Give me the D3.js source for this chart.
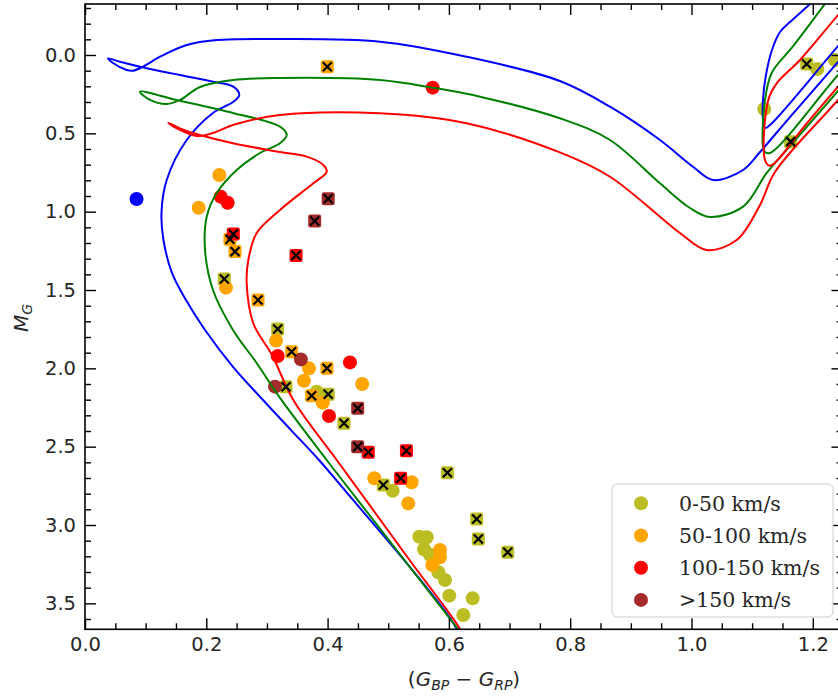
<!DOCTYPE html>
<html><head><meta charset="utf-8">
<script src="https://cdn.jsdelivr.net/npm/d3@7"></script>
<style>body{margin:0;background:#fff}svg{display:block}</style>
</head><body>
<script>
// ---------- data ----------
const xTickVals = [0, 0.2, 0.4, 0.6, 0.8, 1.0, 1.2];
const yTickVals = [0, 0.5, 1.0, 1.5, 2.0, 2.5, 3.0, 3.5];
const legendLabels = ["0-50 km/s", "50-100 km/s", "100-150 km/s", ">150 km/s"];
const classColors = ["#bcbd22", "#ffa500", "#ff0000", "#a52a2a"];
const isoColors = ["#0000ff", "#008000", "#ff0000"];

// isochrones: [colour index, magnitude]
const blueIso = [[0.618,3.702],[0.602,3.594],[0.526,3.223],[0.4419,2.840],[0.3858,2.585],[0.3397,2.394],[0.2935,2.202],[0.244,1.990],[0.1979,1.755],[0.1665,1.564],[0.1434,1.391],[0.1294,1.181],[0.1261,1.008],[0.1347,0.798],[0.1677,0.5425],[0.211,0.370],[0.244,0.300],[0.2544,0.255],[0.2445,0.202],[0.211,0.170],[0.1566,0.128],[0.0907,0.0747],[0.0577,0.043],[0.0379,0.021],[0.0462,0.051],[0.0688,0.0957],[0.0791,0.100],[0.0956,0.0747],[0.1237,0.011],[0.1677,-0.064],[0.2172,-0.0957],[0.3215,-0.102],[0.4864,-0.085],[0.629,0.011],[0.783,0.166],[0.8656,0.330],[0.948,0.5425],[1.0025,0.713],[1.0354,0.798],[1.085,0.734],[1.113,0.619],[1.1624,0.396],[1.2416,0.0447],[1.3438,-0.4085],[1.3438,-0.737],[1.1624,-0.2106],[1.146,-0.147],[1.1327,-0.032],[1.1228,0.128],[1.1179,0.287],[1.1179,0.415],[1.121,0.466],[1.1294,0.447],[1.2416,-0.057],[1.3438,-0.517]];
const greenIso = [[0.6233,3.708],[0.615,3.664],[0.5355,3.268],[0.4534,2.859],[0.3985,2.585],[0.3215,2.189],[0.283,1.966],[0.244,1.755],[0.211,1.500],[0.1979,1.245],[0.2007,1.032],[0.2172,0.881],[0.2501,0.734],[0.2885,0.6255],[0.3215,0.5636],[0.3326,0.5106],[0.3215,0.4577],[0.244,0.370],[0.1512,0.287],[0.0907,0.234],[0.1072,0.287],[0.1347,0.3128],[0.1566,0.287],[0.1896,0.204],[0.244,0.1596],[0.3215,0.1468],[0.4864,0.1596],[0.5733,0.2087],[0.6513,0.266],[0.783,0.404],[0.8656,0.5425],[0.948,0.819],[0.9975,0.9766],[1.0305,1.034],[1.085,0.968],[1.124,0.753],[1.1624,0.581],[1.2416,0.2298],[1.3438,-0.2253],[1.3438,-0.839],[1.1624,-0.032],[1.1322,0.115],[1.1212,0.287],[1.1179,0.585],[1.1212,0.619],[1.1294,0.6255],[1.2416,0.1277],[1.3438,-0.3287]];
const redIso = [[0.6216,3.702],[0.6183,3.664],[0.5375,3.236],[0.469,2.872],[0.415,2.585],[0.3435,2.202],[0.3083,1.915],[0.2775,1.7125],[0.2666,1.457],[0.2693,1.3085],[0.2831,1.136],[0.3215,0.989],[0.3764,0.819],[0.3985,0.745],[0.3929,0.702],[0.3655,0.649],[0.3215,0.619],[0.244,0.5636],[0.1896,0.5106],[0.1566,0.468],[0.1373,0.432],[0.1512,0.468],[0.1842,0.517],[0.211,0.498],[0.244,0.447],[0.3215,0.383],[0.4864,0.372],[0.629,0.436],[0.783,0.622],[0.8656,0.777],[0.948,1.032],[0.981,1.136],[1.025,1.245],[1.0745,1.181],[1.113,0.957],[1.1377,0.747],[1.2416,0.287],[1.3438,-0.169],[1.3438,-0.721],[1.2416,-0.255],[1.1789,0.032],[1.1405,0.181],[1.1266,0.287],[1.1212,0.670],[1.1294,0.7066],[1.190,0.436],[1.2416,0.2023],[1.3438,-0.255]];

// stars: [colour index, M_G, marked with x]
const pts0to50 = [[0.2297,1.430,1],[0.3177,1.749,1],[0.3314,2.117,1],[0.382,2.149,0],[0.401,2.166,1],[0.427,2.351,1],[0.5975,2.666,1],[0.4919,2.745,1],[0.5073,2.781,0],[0.6458,2.962,1],[0.6485,3.089,1],[0.697,3.174,1],[0.5513,3.075,0],[0.5634,3.078,0],[0.559,3.155,0],[0.5688,3.19,0],[0.5826,3.302,0],[0.5936,3.351,0],[0.6007,3.451,0],[0.6392,3.468,0],[0.6238,3.574,0],[1.120,0.345,0],[1.190,0.057,1],[1.2075,0.089,0],[1.2366,0.032,0],[1.1635,0.553,1]];
const pts50to100 = [[0.2215,0.766,0],[0.1874,0.975,0],[0.239,1.176,1],[0.2473,1.255,1],[0.2325,1.485,0],[0.2852,1.564,1],[0.315,1.823,0],[0.3407,1.894,1],[0.3693,2.000,0],[0.399,2.000,1],[0.457,2.100,0],[0.361,2.079,0],[0.3737,2.175,1],[0.392,2.219,0],[0.477,2.702,0],[0.5386,2.727,0],[0.533,2.862,0],[0.5853,3.160,0],[0.5853,3.206,0],[0.5727,3.255,0],[0.3995,0.0745,1]];
const pts100to150 = [[0.2237,0.904,0],[0.2352,0.943,0],[0.2446,1.142,1],[0.348,1.279,1],[0.3177,1.921,0],[0.4369,1.962,0],[0.4023,2.304,0],[0.4671,2.536,1],[0.530,2.526,1],[0.5205,2.702,1],[0.5733,0.2085,0]];
const ptsOver150 = [[0.401,0.917,1],[0.3787,1.060,1],[0.356,1.943,0],[0.3133,2.117,0],[0.4496,2.255,1],[0.4496,2.500,1]];
const bluePt = [[0.085,0.919]];

// ---------- layout ----------
const W = 838, H = 696;
const L = 85, R = 842.5, T = 4, B = 629.3;
const x = d3.scaleLinear().domain([0, 1.249]).range([L, R]);
const y = d3.scaleLinear().domain([-0.3255, 3.6657]).range([T, B]);

const svg = d3.select("body").append("svg").attr("width", W).attr("height", H)
  .style("font-family", "'DejaVu Sans', sans-serif");

svg.append("defs").append("clipPath").attr("id", "clip")
  .append("rect").attr("x", L).attr("y", T).attr("width", R - L).attr("height", B - T);

const plot = svg.append("g").attr("clip-path", "url(#clip)");

// points
const groups = [pts0to50, pts50to100, pts100to150, ptsOver150];
groups.forEach((arr, i) => {
  const c = classColors[i];
  plot.selectAll(null).data(arr.filter(d => !d[2])).enter().append("circle")
    .attr("cx", d => x(d[0])).attr("cy", d => y(d[1])).attr("r", 7).attr("fill", c);
  plot.selectAll(null).data(arr.filter(d => d[2])).enter().append("rect")
    .attr("x", d => x(d[0]) - 6.5).attr("y", d => y(d[1]) - 6.5)
    .attr("width", 13).attr("height", 13).attr("rx", 2).attr("fill", c);
});
plot.selectAll(null).data(bluePt).enter().append("circle")
  .attr("cx", d => x(d[0])).attr("cy", d => y(d[1])).attr("r", 7).attr("fill", "#0000ff");

// isochrones
const line = d3.line().x(d => x(d[0])).y(d => y(d[1])).curve(d3.curveCatmullRom.alpha(0.5));
[blueIso, greenIso, redIso].forEach((iso, i) => {
  plot.append("path").attr("d", line(iso)).attr("fill", "none")
    .attr("stroke", isoColors[i]).attr("stroke-width", 2);
});

// x markers
const marked = [].concat(...groups.map(a => a.filter(d => d[2])));
plot.selectAll(null).data(marked).enter().append("path")
  .attr("transform", d => `translate(${x(d[0])},${y(d[1])})`)
  .attr("d", "M-4.5,-4.5L4.5,4.5M-4.5,4.5L4.5,-4.5")
  .attr("stroke", "#000").attr("stroke-width", 2.2).attr("fill", "none");

// ---------- axes ----------
const xMinor = d3.range(0, 1.25, 0.05).filter(v => Math.abs(v * 5 - Math.round(v * 5)) > 1e-6);
const yMinor = d3.range(-0.3, 3.7, 0.1).filter(v => Math.abs(v * 2 - Math.round(v * 2)) > 1e-6);

function styleAxis(g) {
  g.select(".domain").remove();
  g.selectAll(".tick line").attr("stroke", "#000").attr("stroke-width", 1.4);
  g.selectAll(".tick text").attr("fill", "#262626").style("font-size", "19.5px")
    .style("font-family", "'DejaVu Sans', sans-serif");
}
const fmt = d3.format(".1f");
svg.append("g").attr("transform", `translate(0,${B})`)
  .call(d3.axisBottom(x).tickValues(xTickVals).tickFormat(fmt).tickSize(-11).tickPadding(8)).call(styleAxis);
svg.append("g").attr("transform", `translate(0,${B})`)
  .call(d3.axisBottom(x).tickValues(xMinor).tickFormat("").tickSize(-6)).call(styleAxis);
svg.append("g").attr("transform", `translate(0,${T})`)
  .call(d3.axisTop(x).tickValues(xTickVals).tickFormat("").tickSize(-11)).call(styleAxis);
svg.append("g").attr("transform", `translate(0,${T})`)
  .call(d3.axisTop(x).tickValues(xMinor).tickFormat("").tickSize(-6)).call(styleAxis);
svg.append("g").attr("transform", `translate(${L},0)`)
  .call(d3.axisLeft(y).tickValues(yTickVals).tickFormat(fmt).tickSize(-11).tickPadding(9)).call(styleAxis);
svg.append("g").attr("transform", `translate(${L},0)`)
  .call(d3.axisLeft(y).tickValues(yMinor).tickFormat("").tickSize(-6)).call(styleAxis);
svg.append("g").attr("transform", `translate(${R},0)`)
  .call(d3.axisRight(y).tickValues(yTickVals).tickFormat("").tickSize(-11)).call(styleAxis);
svg.append("g").attr("transform", `translate(${R},0)`)
  .call(d3.axisRight(y).tickValues(yMinor).tickFormat("").tickSize(-6)).call(styleAxis);

svg.append("rect").attr("x", L).attr("y", T).attr("width", R - L).attr("height", B - T)
  .attr("fill", "none").attr("stroke", "#000").attr("stroke-width", 1.6);

// axis labels
const xl = svg.append("text").attr("x", 464).attr("y", 686)
  .attr("text-anchor", "middle").attr("fill", "#262626").style("font-size", "20px");
xl.append("tspan").text("(");
xl.append("tspan").attr("font-style", "italic").text("G");
xl.append("tspan").attr("font-style", "italic").attr("dy", 4).style("font-size", "14px").text("BP");
xl.append("tspan").attr("dy", -4).text(" \u2212 ");
xl.append("tspan").attr("font-style", "italic").text("G");
xl.append("tspan").attr("font-style", "italic").attr("dy", 4).style("font-size", "14px").text("RP");
xl.append("tspan").attr("dy", -4).text(")");

const yl = svg.append("text").attr("transform", "translate(28,318) rotate(-90)")
  .attr("text-anchor", "middle").attr("fill", "#262626").style("font-size", "20px");
yl.append("tspan").attr("font-style", "italic").text("M");
yl.append("tspan").attr("font-style", "italic").attr("dy", 4).style("font-size", "14px").text("G");

// legend
const lg = svg.append("g");
lg.append("rect").attr("x", 612).attr("y", 484).attr("width", 221).attr("height", 133)
  .attr("rx", 5).attr("fill", "#fff").attr("fill-opacity", 0.8).attr("stroke", "#cccccc").attr("stroke-width", 1);
legendLabels.forEach((lab, i) => {
  const cy = 503.3 + i * 32.2;
  lg.append("circle").attr("cx", 641).attr("cy", cy).attr("r", 7).attr("fill", classColors[i]);
  lg.append("text").attr("x", 679).attr("y", cy).attr("dy", "0.36em")
    .style("font-family", "'DejaVu Serif', serif").style("font-size", "20.5px")
    .attr("fill", "#262626").text(lab);
});
</script>
</body></html>
